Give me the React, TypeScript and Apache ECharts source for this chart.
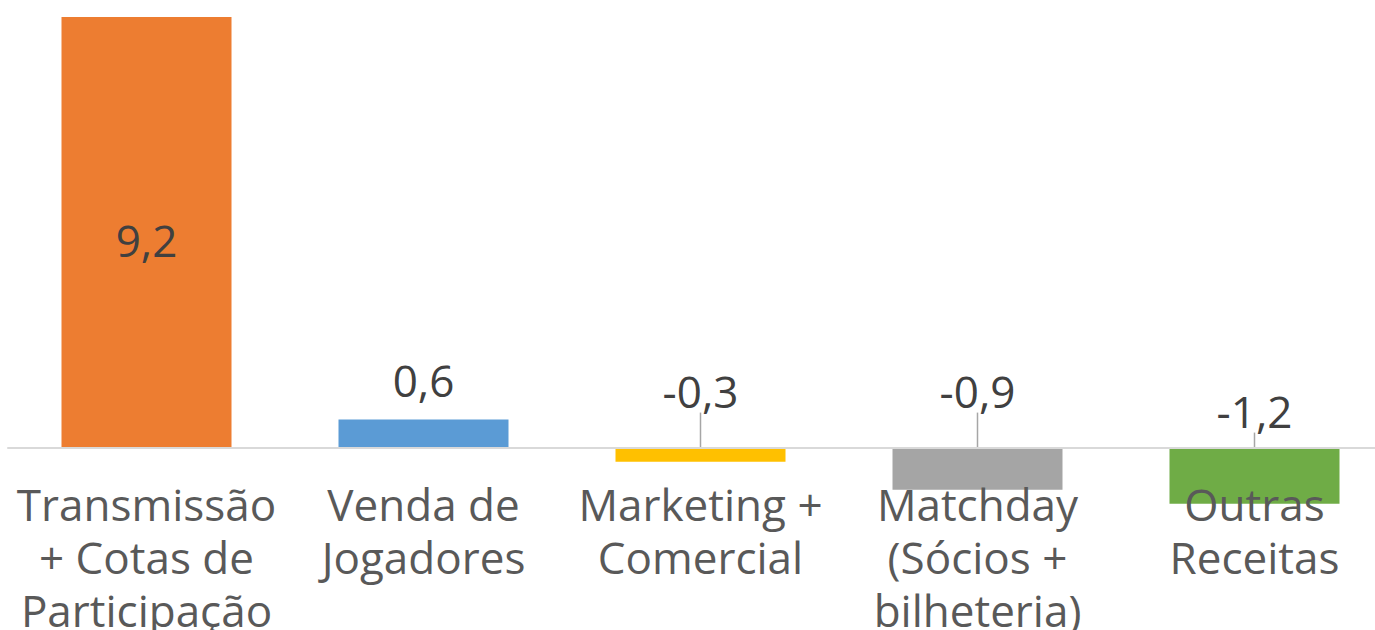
import React, { useEffect, useRef } from "react";
import * as echarts from "echarts";

const categories = [
  "Transmissão\n+ Cotas de\nParticipação",
  "Venda de\nJogadores",
  "Marketing +\nComercial",
  "Matchday\n(Sócios +\nbilheteria)",
  "Outras\nReceitas",
];
const values = [9.2, 0.6, -0.3, -0.9, -1.2];
const colors = ["#ED7D31", "#5B9BD5", "#FFC000", "#A5A5A5", "#6FAC46"];

// label placement styles per bar
const labelPositions = ["inside", "top", "top", "top", "top"];
const labelDistances = [0, 18, 5, 5, 5];
const labelShiftY = [8, 0, -30, -30, -10];
const showLeader = [false, false, true, true, true];

const FONT = "'Open Sans', sans-serif";
const Y_MIN = -3;
const Y_MAX = 9.2;
const GRID_TOP = 17;
const GRID_BOTTOM = 42;
const H = 630;

export default function App() {
  const ref = useRef<HTMLDivElement>(null);
  useEffect(() => {
    document.body.style.margin = "0";
    const chart = echarts.init(ref.current!, undefined, { renderer: "svg" });
    const plotH = H - GRID_TOP - GRID_BOTTOM;
    const zeroFromBottom = (-Y_MIN / (Y_MAX - Y_MIN)) * plotH;
    chart.setOption({
      animation: false,
      grid: {
        left: 8,
        right: -18,
        top: GRID_TOP,
        bottom: GRID_BOTTOM,
        containLabel: false,
        outerBoundsMode: "none",
      },
      xAxis: {
        type: "category",
        data: categories,
        z: 10,
        position: "bottom",
        offset: -zeroFromBottom,
        axisLine: { onZero: false, lineStyle: { color: "#D9D9D9", width: 2 } },
        axisTick: { show: false },
        axisLabel: {
          interval: 0,
          margin: 30,
          color: "#595959",
          fontFamily: FONT,
          fontSize: 44,
          lineHeight: 53,
        },
      },
      yAxis: {
        type: "value",
        min: Y_MIN,
        max: Y_MAX,
        show: false,
        splitLine: { show: false },
      },
      series: [
        {
          type: "bar",
          barWidth: 170,
          data: values.map((v, i) => ({
            value: v,
            itemStyle: { color: colors[i] },
            label: {
              show: true,
              position: labelPositions[i],
              distance: labelDistances[i],
            },
            labelLine: { show: showLeader[i] },
          })),
          label: {
            show: true,
            color: "#404040",
            fontFamily: FONT,
            fontSize: 44,
            formatter: (p: any) => p.value.toFixed(1).replace(".", ","),
          },
          labelLayout: (p: any) => ({ dy: labelShiftY[p.dataIndex] }),
          labelLine: { show: true, lineStyle: { color: "#A6A6A6", width: 1.5 } },
        },
      ],
    });
    return () => chart.dispose();
  }, []);
  return <div ref={ref} style={{ width: 1375, height: 630 }} />;
}
